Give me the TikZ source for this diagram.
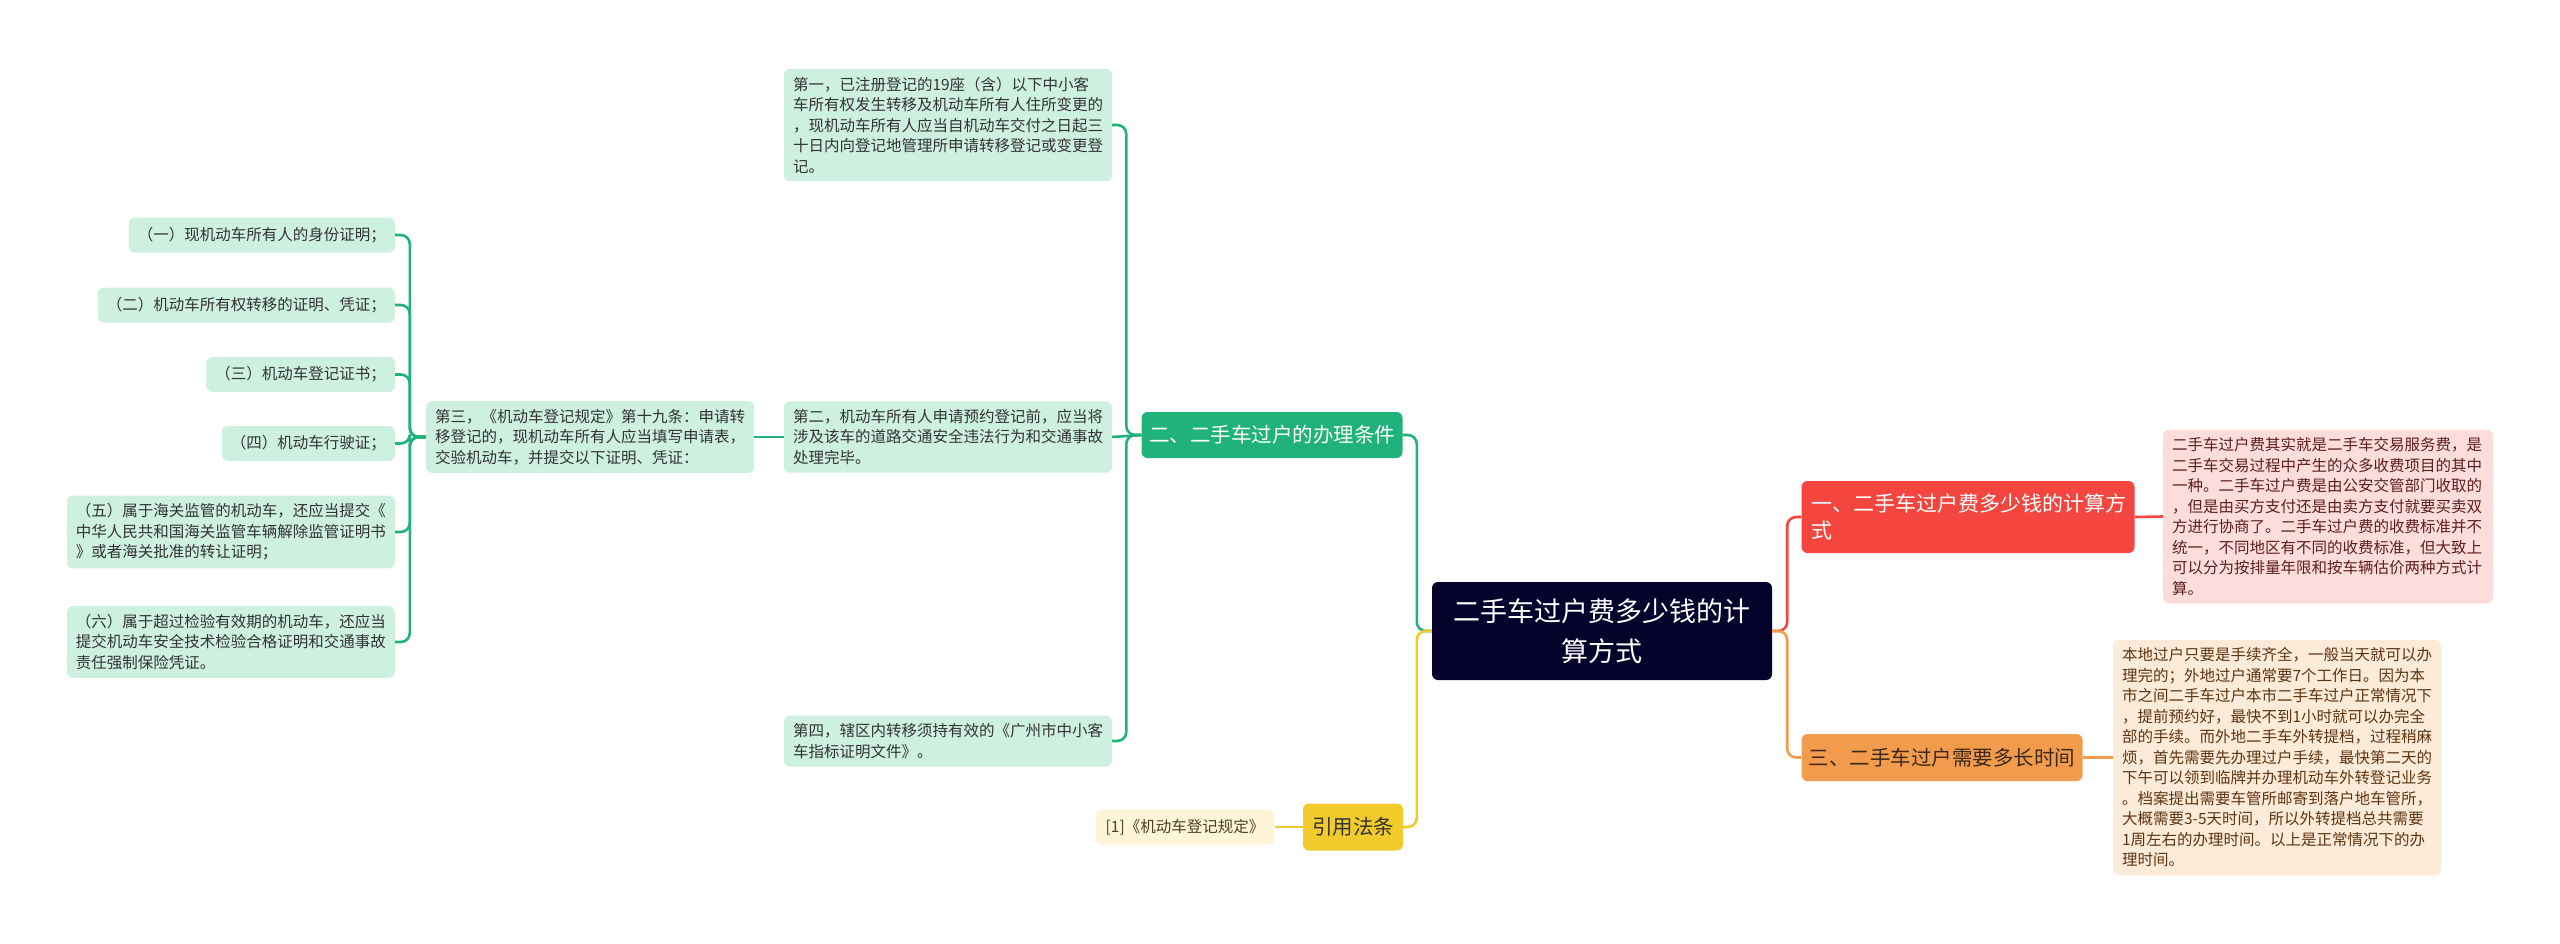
\documentclass[tikz,border=0pt]{standalone}
\usepackage{fontspec}
\setmainfont{Noto Sans CJK SC}
\definecolor{gr}{HTML}{20B27A}
\definecolor{mint}{HTML}{CDF0E1}
\definecolor{navy}{HTML}{05032B}
\definecolor{rd}{HTML}{F4463F}
\definecolor{pinkbg}{HTML}{FCDDDC}
\definecolor{org}{HTML}{F39B4C}
\definecolor{peach}{HTML}{FDEBDA}
\definecolor{ylw}{HTML}{F1CA2B}
\definecolor{cream}{HTML}{FDF5D6}
\definecolor{txt}{HTML}{333333}
\definecolor{redtxt}{HTML}{5E1E1E}
\definecolor{brtxt}{HTML}{5E3410}
\definecolor{ortxt}{HTML}{3B2A1A}
\definecolor{cittxt}{HTML}{4D4020}
\begin{document}
\begin{tikzpicture}[x=1pt,y=-1pt,
  box/.style={rounded corners=6pt, inner ysep=8pt, inner xsep=9pt},
  leaffont/.style={font=\fontsize{15.5}{20.5}\selectfont},
  leafwide/.style={box, leaffont, fill=mint, text=txt, align=left, text width=310pt},
  leafone/.style={box, leaffont, fill=mint, text=txt, minimum height=35pt, inner xsep=9pt, anchor=east},
  branchfont/.style={font=\fontsize{20.5}{27}\selectfont},
  glink/.style={draw=gr, line width=2.6pt, rounded corners=9pt},
  rlink/.style={draw=rd, line width=2.6pt, rounded corners=9pt},
  olink/.style={draw=org, line width=2.6pt, rounded corners=9pt},
  ylink/.style={draw=ylw, line width=2.6pt, rounded corners=9pt}
]
\useasboundingbox (0,0) rectangle (2560,943);

% central
\node[box, fill=navy, text=white, align=center, minimum width=340pt, minimum height=98pt,
  font=\fontsize{27}{40}\selectfont] (central) at (1602,631) {二手车过户费多少钱的计\\算方式};

% main branches
\node[box, branchfont, fill=gr, text=white, inner xsep=7pt, minimum width=261pt, minimum height=46pt] (green) at (1272,435) {二、二手车过户的办理条件};
\node[box, branchfont, fill=ylw, text=txt, inner xsep=7pt, minimum width=100pt, minimum height=47pt] (yellow) at (1353,827) {引用法条};
\node[box, font=\fontsize{21}{27}\selectfont, fill=rd, text=white, align=left, text width=313pt, inner xsep=10pt, minimum height=72pt] (red) at (1968,517) {一、二手车过户费多少钱的计算方\\式};
\node[box, branchfont, fill=org, text=ortxt, inner xsep=7pt, minimum width=281pt, minimum height=47pt] (orange) at (1942,757.5) {三、二手车过户需要多长时间};

% right leaves
\node[box, leaffont, fill=pinkbg, text=redtxt, align=left, text width=312pt] (redtext) at (2328,516.5) {二手车过户费其实就是二手车交易服务费，是\\二手车交易过程中产生的众多收费项目的其中\\一种。二手车过户费是由公安交管部门收取的\\，但是由买方支付还是由卖方支付就要买卖双\\方进行协商了。二手车过户费的收费标准并不\\统一，不同地区有不同的收费标准，但大致上\\可以分为按排量年限和按车辆估价两种方式计\\算。};
\node[box, leaffont, fill=peach, text=brtxt, align=left, text width=310pt] (orangetext) at (2277,757.5) {本地过户只要是手续齐全，一般当天就可以办\\理完的；外地过户通常要7个工作日。因为本\\市之间二手车过户本市二手车过户正常情况下\\，提前预约好，最快不到1小时就可以办完全\\部的手续。而外地二手车外转提档，过程稍麻\\烦，首先需要先办理过户手续，最快第二天的\\下午可以领到临牌并办理机动车外转登记业务\\。档案提出需要车管所邮寄到落户地车管所，\\大概需要3-5天时间，所以外转提档总共需要\\1周左右的办理时间。以上是正常情况下的办\\理时间。};

% citation
\node[box, leaffont, fill=cream, text=cittxt, minimum height=35pt, inner xsep=10pt] (cite) at (1185,827) {[1]《机动车登记规定》};

% green children
\node[leafwide] (b1) at (948,125) {第一，已注册登记的19座（含）以下中小客\\车所有权发生转移及机动车所有人住所变更的\\，现机动车所有人应当自机动车交付之日起三\\十日内向登记地管理所申请转移登记或变更登\\记。};
\node[leafwide] (b2) at (948,437) {第二，机动车所有人申请预约登记前，应当将\\涉及该车的道路交通安全违法行为和交通事故\\处理完毕。};
\node[leafwide] (b4) at (948,741) {第四，辖区内转移须持有效的《广州市中小客\\车指标证明文件》。};
\node[leafwide] (b3) at (590,437) {第三，《机动车登记规定》第十九条：申请转\\移登记的，现机动车所有人应当填写申请表，\\交验机动车，并提交以下证明、凭证：};

% third's children
\node[leafone] (c1) at (395,235) {（一）现机动车所有人的身份证明；};
\node[leafone] (c2) at (395,305) {（二）机动车所有权转移的证明、凭证；};
\node[leafone] (c3) at (395,374.5) {（三）机动车登记证书；};
\node[leafone] (c4) at (395,443.5) {（四）机动车行驶证；};
\node[leafwide, anchor=east] (c5) at (395,532) {（五）属于海关监管的机动车，还应当提交《\\中华人民共和国海关监管车辆解除监管证明书\\》或者海关批准的转让证明；};
\node[leafwide, anchor=east] (c6) at (395,642) {（六）属于超过检验有效期的机动车，还应当\\提交机动车安全技术检验合格证明和交通事故\\责任强制保险凭证。};

% connectors
\draw[glink] (central.west) -- ([xshift=-15pt]central.west) |- (green.east);
\draw[ylink] (central.west) -- ([xshift=-15pt]central.west) |- (yellow.east);
\draw[ylink] (yellow.west) -- (cite.east);
\draw[rlink] (central.east) -- ([xshift=15pt]central.east) |- (red.west);
\draw[olink] (central.east) -- ([xshift=15pt]central.east) |- (orange.west);
\draw[rlink] (red.east) -- (redtext.west);
\draw[olink] (orange.east) -- (orangetext.west);
\draw[glink] (green.west) -- ([xshift=-15pt]green.west) |- (b1.east);
\draw[glink] (green.west) -- (b2.east);
\draw[glink] (green.west) -- ([xshift=-15pt]green.west) |- (b4.east);
\draw[glink] (b2.west) -- (b3.east);
\foreach \c in {c1,c2,c3,c4,c5,c6}{
  \draw[glink] (b3.west) -- ([xshift=-16pt]b3.west) |- (\c.east);
}
\end{tikzpicture}
\end{document}
